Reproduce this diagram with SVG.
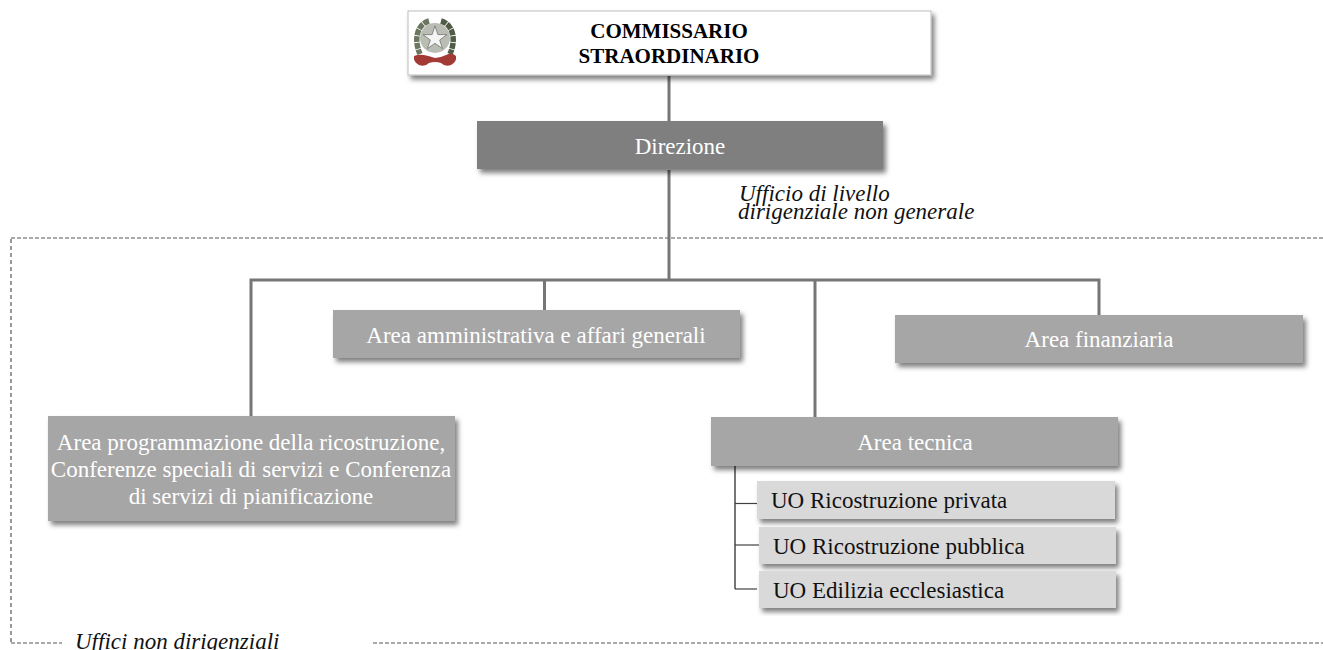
<svg xmlns="http://www.w3.org/2000/svg" width="1323" height="650" viewBox="0 0 1323 650">
<style>
text{font-family:"Liberation Serif","Times New Roman",serif}
.w{fill:#fff;font-size:23px;text-anchor:middle}
.k{fill:#111;font-size:23px}
.i{fill:#111;font-size:23px;font-style:italic}
.b{fill:#000;font-size:21px;font-weight:bold;text-anchor:middle}
.n{filter:url(#s)}
.a{fill:#a6a6a6}
.u{fill:#d9d9d9}
.c{fill:none;stroke:#767676;stroke-width:3}
.t{fill:none;stroke:#404040;stroke-width:1.2}
.d{fill:none;stroke:#555;stroke-width:1;stroke-dasharray:4 2}
.e{fill:none;stroke:#999;stroke-width:2;stroke-dasharray:4 3}
</style>
<defs>
<filter id="s" x="-5%" y="-10%" width="110%" height="130%"><feDropShadow dx="3" dy="4" stdDeviation="2.500" flood-color="#000" flood-opacity=".5"/></filter>
</defs>
<rect width="1323" height="650" fill="#fff"/>
<g id="boundaries">
<path class="d" d="M11 238H1323"/>
<path class="e" d="M11 239V643"/>
<path class="d" d="M11 643H62"/>
<path class="d" d="M373 643H1323"/>
</g>
<g id="connectors">
<path class="c" d="M669 76V122"/>
<path class="c" d="M669 170V279"/>
<path class="c" d="M251 416V280H1099V315"/>
<path class="c" d="M544.500 280V310"/>
<path class="c" d="M815 280V418"/>
<path class="c" d="M735 466V589" style="stroke-width:2"/>
<path class="t" d="M735 503.500H757"/>
<path class="t" d="M735 545H759"/>
<path class="t" d="M735 589H757"/>
</g>
<g id="commissario">
<rect class="n" x="408" y="11" width="523" height="64" fill="#fff" stroke="#bdbdbd"/>
<g id="emblem">
<circle cx="435" cy="38" r="15" fill="#b9bdb4"/>
<path d="M429 21C418 24 413 38 420 54" fill="none" stroke="#6a7660" stroke-width="5.500" stroke-dasharray="6 .8"/>
<path d="M441 21C452 24 457 38 450 54" fill="none" stroke="#4f5b47" stroke-width="5.500" stroke-dasharray="6 .8"/>
<path d="M435 26l2.900 8.600h9.100l-7.300 5.400 2.800 8.600-7.500-5.300-7.500 5.300 2.800-8.600-7.300-5.400h9.100z" fill="#f4f4f4" stroke="#666" stroke-width=".7"/>
<path d="M414 56q5-2 10-1t11 3q5 0 11-3t10 1q1 6-5 9-6 2-10-2-3-1-6-1-3 0-6 1-4 4-10 2-6-3-5-9z" fill="#a33a36"/>
</g>
<text class="b" x="669" y="38">COMMISSARIO</text>
<text class="b" x="669" y="63">STRAORDINARIO</text>
</g>
<g id="direzione">
<rect class="n" x="477" y="121" width="406" height="48" fill="#7f7f7f"/>
<text class="w" x="680" y="154">Direzione</text>
</g>
<text class="i" x="739" y="201">Ufficio di livello</text>
<text class="i" x="738" y="219">dirigenziale non generale</text>
<g id="area-amministrativa">
<rect class="n a" x="333" y="310" width="407" height="48"/>
<text class="w" x="536" y="343">Area amministrativa e affari generali</text>
</g>
<g id="area-finanziaria">
<rect class="n a" x="895" y="315" width="408" height="48"/>
<text class="w" x="1099" y="347">Area finanziaria</text>
</g>
<g id="area-programmazione">
<rect class="n a" x="48" y="416" width="407" height="105"/>
<text class="w" x="251" y="450">Area programmazione della ricostruzione,</text>
<text class="w" x="251" y="477">Conferenze speciali di servizi e Conferenza</text>
<text class="w" x="251" y="504">di servizi di pianificazione</text>
</g>
<g id="area-tecnica">
<rect class="n a" x="711" y="417" width="407" height="49"/>
<text class="w" x="915" y="450">Area tecnica</text>
</g>
<g id="uo-privata">
<rect class="n u" x="757" y="481" width="358" height="38"/>
<text class="k" x="771" y="508">UO Ricostruzione privata</text>
</g>
<g id="uo-pubblica">
<rect class="n u" x="759" y="527" width="357" height="37"/>
<text class="k" x="773" y="554">UO Ricostruzione pubblica</text>
</g>
<g id="uo-edilizia">
<rect class="n u" x="759" y="571" width="357" height="37"/>
<text class="k" x="773" y="598">UO Edilizia ecclesiastica</text>
</g>
<text class="i" x="75" y="649">Uffici non dirigenziali</text>
</svg>
